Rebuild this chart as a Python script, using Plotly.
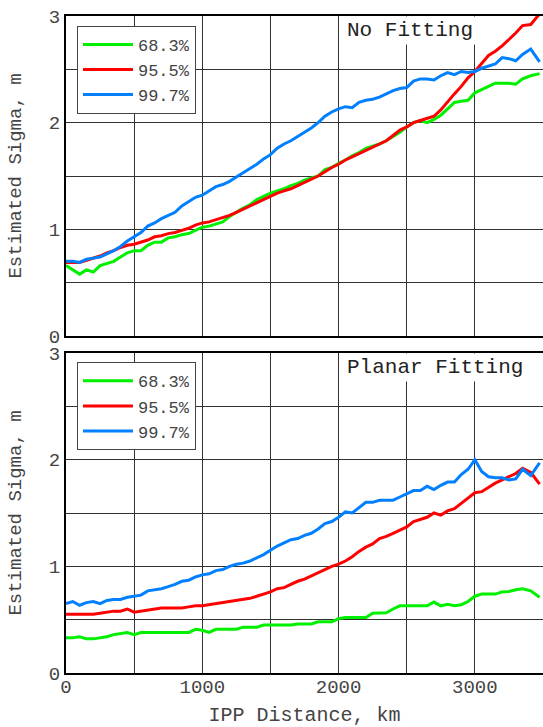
import plotly.graph_objects as go
from plotly.subplots import make_subplots

# IPP distance (km)
distance = [0, 50, 100, 150, 200, 250, 300, 350, 400, 450, 500, 550, 600, 650, 700, 750, 800, 850, 900, 950,
            1000, 1050, 1100, 1150, 1200, 1250, 1300, 1350, 1400, 1450, 1500, 1550, 1600, 1650, 1700, 1750,
            1800, 1850, 1900, 1950, 2000, 2050, 2100, 2150, 2200, 2250, 2300, 2350, 2400, 2450, 2500, 2550,
            2600, 2650, 2700, 2750, 2800, 2850, 2900, 2950, 3000, 3050, 3100, 3150, 3200, 3250, 3300, 3350,
            3410, 3475]

series_names = ["68.3%", "95.5%", "99.7%"]

# No Fitting
nofit_683 = [0.66, 0.62, 0.58, 0.62, 0.60, 0.66, 0.68, 0.70, 0.74, 0.78, 0.80, 0.80, 0.85, 0.88, 0.88, 0.92,
             0.93, 0.95, 0.96, 0.99, 1.02, 1.03, 1.05, 1.07, 1.12, 1.16, 1.20, 1.23, 1.28, 1.31, 1.34, 1.36,
             1.38, 1.41, 1.43, 1.46, 1.48, 1.50, 1.56, 1.58, 1.62, 1.65, 1.69, 1.72, 1.76, 1.78, 1.80, 1.83,
             1.87, 1.91, 1.96, 2.00, 2.02, 2.00, 2.03, 2.07, 2.13, 2.19, 2.20, 2.21, 2.28, 2.31, 2.34, 2.37,
             2.37, 2.37, 2.36, 2.41, 2.44, 2.46]
nofit_955 = [0.69, 0.69, 0.69, 0.71, 0.73, 0.75, 0.78, 0.80, 0.83, 0.85, 0.86, 0.88, 0.90, 0.93, 0.94, 0.96,
             0.97, 0.99, 1.01, 1.04, 1.06, 1.07, 1.09, 1.11, 1.13, 1.16, 1.19, 1.22, 1.25, 1.28, 1.31, 1.34,
             1.36, 1.38, 1.41, 1.44, 1.47, 1.50, 1.54, 1.58, 1.61, 1.65, 1.68, 1.71, 1.74, 1.77, 1.80, 1.83,
             1.88, 1.93, 1.96, 2.00, 2.02, 2.04, 2.06, 2.12, 2.20, 2.27, 2.34, 2.42, 2.48, 2.56, 2.63, 2.67,
             2.72, 2.78, 2.84, 2.91, 2.92, 3.02]
nofit_997 = [0.70, 0.70, 0.69, 0.72, 0.73, 0.74, 0.77, 0.80, 0.84, 0.89, 0.93, 0.97, 1.03, 1.06, 1.10, 1.13,
             1.16, 1.22, 1.26, 1.30, 1.32, 1.36, 1.40, 1.42, 1.45, 1.49, 1.53, 1.57, 1.61, 1.66, 1.70, 1.76,
             1.80, 1.83, 1.87, 1.91, 1.95, 2.00, 2.06, 2.10, 2.13, 2.15, 2.14, 2.19, 2.21, 2.22, 2.24, 2.27,
             2.30, 2.32, 2.33, 2.39, 2.41, 2.41, 2.40, 2.44, 2.47, 2.45, 2.48, 2.47, 2.48, 2.51, 2.53, 2.55,
             2.61, 2.60, 2.58, 2.64, 2.69, 2.57]

# Planar Fitting
planar_683 = [0.33, 0.33, 0.34, 0.32, 0.32, 0.33, 0.34, 0.36, 0.37, 0.38, 0.36, 0.38, 0.38, 0.38, 0.38, 0.38,
              0.38, 0.38, 0.38, 0.41, 0.40, 0.38, 0.41, 0.41, 0.41, 0.41, 0.43, 0.43, 0.43, 0.45, 0.45, 0.45,
              0.45, 0.45, 0.46, 0.46, 0.46, 0.48, 0.48, 0.48, 0.51, 0.52, 0.52, 0.52, 0.52, 0.56, 0.56, 0.565,
              0.60, 0.63, 0.63, 0.63, 0.63, 0.63, 0.665, 0.63, 0.645, 0.63, 0.64, 0.67, 0.72, 0.74, 0.74, 0.74,
              0.76, 0.765, 0.78, 0.79, 0.77, 0.71]
planar_955 = [0.55, 0.55, 0.55, 0.55, 0.55, 0.56, 0.57, 0.58, 0.58, 0.60, 0.57, 0.58, 0.59, 0.60, 0.61, 0.61,
              0.61, 0.61, 0.62, 0.63, 0.63, 0.64, 0.65, 0.66, 0.67, 0.68, 0.69, 0.70, 0.72, 0.74, 0.76, 0.79,
              0.80, 0.83, 0.86, 0.88, 0.91, 0.94, 0.97, 1.00, 1.02, 1.05, 1.09, 1.14, 1.18, 1.21, 1.26, 1.28,
              1.31, 1.34, 1.37, 1.42, 1.44, 1.46, 1.50, 1.48, 1.52, 1.54, 1.59, 1.64, 1.69, 1.70, 1.74, 1.78,
              1.81, 1.84, 1.87, 1.92, 1.88, 1.77]
planar_997 = [0.65, 0.67, 0.635, 0.66, 0.67, 0.65, 0.68, 0.69, 0.69, 0.71, 0.72, 0.73, 0.77, 0.78, 0.79, 0.81,
              0.83, 0.86, 0.87, 0.90, 0.92, 0.93, 0.96, 0.97, 1.00, 1.02, 1.03, 1.05, 1.08, 1.11, 1.15, 1.19,
              1.22, 1.25, 1.26, 1.29, 1.31, 1.35, 1.40, 1.42, 1.46, 1.51, 1.50, 1.55, 1.60, 1.60, 1.62, 1.62,
              1.62, 1.65, 1.68, 1.71, 1.71, 1.75, 1.72, 1.76, 1.79, 1.79, 1.86, 1.91, 2.00, 1.89, 1.84, 1.83,
              1.83, 1.81, 1.82, 1.91, 1.85, 1.97]

panel_titles = ["No Fitting", "Planar Fitting"]
x_tickvals = [0, 1000, 2000, 3000]
y_tickvals = [0, 1, 2, 3]

colors = ["#00f000", "#ff0000", "#0080ff"]
FONT = "Liberation Mono, Courier New, monospace"
TXT = "#444444"

fig = make_subplots(rows=2, cols=1, shared_xaxes=True, vertical_spacing=17 / 657)

panels = [(nofit_683, nofit_955, nofit_997), (planar_683, planar_955, planar_997)]
for r, vals in enumerate(panels, start=1):
    for name, v, c in zip(series_names, vals, colors):
        fig.add_trace(go.Scatter(x=distance, y=v, mode="lines", name=name,
                                 line=dict(color=c, width=3),
                                 legend="legend" if r == 1 else "legend2",
                                 showlegend=True), row=r, col=1)

grid = dict(showgrid=True, gridcolor="#333333", gridwidth=1, zeroline=False, automargin=False,
            showline=True, linecolor="#000000", linewidth=2, mirror=True, ticks="",
            tickfont=dict(family=FONT, size=19, color=TXT))

for r in (1, 2):
    fig.update_xaxes(range=[0, 3500], tickvals=x_tickvals,
                     minor=dict(dtick=500, tick0=0, showgrid=True, gridcolor="#333333", gridwidth=1),
                     row=r, col=1, **grid)
    fig.update_yaxes(range=[0, 3], tickvals=y_tickvals,
                     minor=dict(dtick=0.5, tick0=0, showgrid=True, gridcolor="#333333", gridwidth=1),
                     title=dict(text="Estimated Sigma, m", font=dict(family=FONT, size=19, color=TXT), standoff=22),
                     row=r, col=1, **grid)

fig.update_xaxes(showticklabels=False, row=1, col=1)
fig.update_xaxes(ticklabelstandoff=-5,
                 title=dict(text="IPP Distance, km", font=dict(family=FONT, size=20, color=TXT), standoff=10),
                 row=2, col=1)

legend_style = dict(font=dict(family=FONT, size=17, color=TXT), bgcolor="white",
                    bordercolor="#444444", borderwidth=1, xanchor="left", yanchor="top",
                    tracegroupgap=0, itemwidth=50)
fig.update_layout(
    width=543, height=727,
    margin=dict(l=66, r=0, t=16, b=54, autoexpand=False),
    plot_bgcolor="white", paper_bgcolor="white",
    font=dict(family=FONT, color=TXT),
    legend=dict(x=0.023, y=0.985, **legend_style),
    legend2=dict(x=0.023, y=0.473, **legend_style),
)

for r, t in enumerate(panel_titles, start=1):
    fig.add_annotation(text=t, xref=f"x{'' if r == 1 else r}", yref=f"y{'' if r == 1 else r}",
                       x=2040, y=3, xanchor="left", yanchor="top", showarrow=False,
                       bgcolor="white", borderpad=2,
                       font=dict(family=FONT, size=21, color="#222222"))

fig.write_html("out.html", config={"displayModeBar": False},
               post_script="document.body.style.margin='0';document.body.style.padding='0';")
